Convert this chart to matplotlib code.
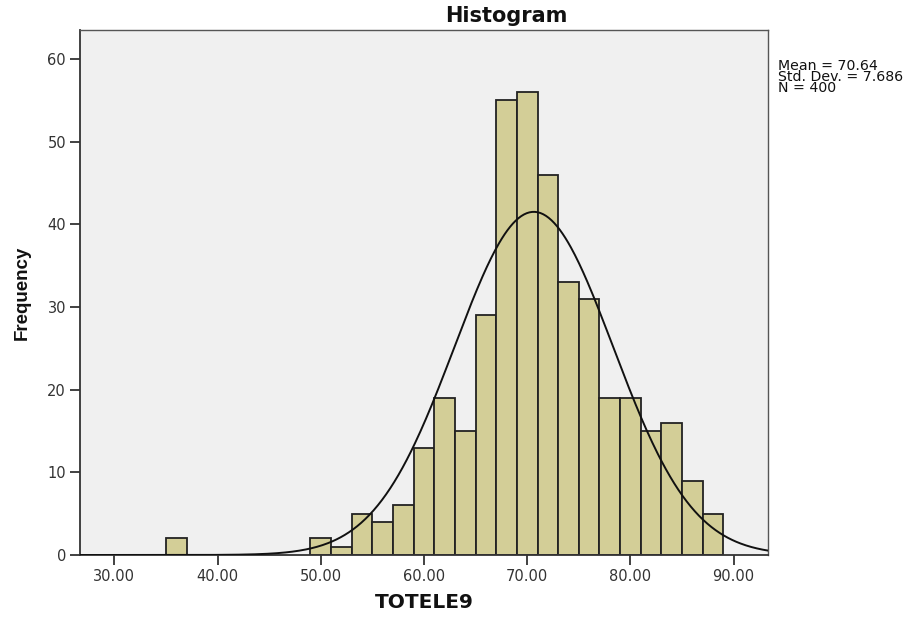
import numpy as np
import matplotlib
matplotlib.use("Agg")
import matplotlib.pyplot as plt

bin_edges = [35, 37, 39, 41, 43, 45, 47, 49, 51, 53, 55, 57, 59, 61, 63, 65,
             67, 69, 71, 73, 75, 77, 79, 81, 83, 85, 87, 89]
counts = [2, 0, 0, 0, 0, 0, 0, 2, 1, 5, 4, 6, 13, 19, 15, 29,
          55, 56, 46, 33, 31, 19, 19, 15, 16, 9, 5]
mean = 70.64
std = 7.686
n = 400
xticks = [30, 40, 50, 60, 70, 80, 90]
yticks = [0, 10, 20, 30, 40, 50, 60]

plt.rcParams['font.family'] = ['DejaVu Sans']

fig = plt.figure(figsize=(9.17, 6.17), dpi=100)
ax = fig.add_axes([0.0872, 0.1005, 0.7503, 0.8505])
ax.set_facecolor('#F0F0F0')

edges = np.array(bin_edges, dtype=float)
widths = np.diff(edges)
for left, w, c in zip(edges[:-1], widths, counts):
    if c > 0:
        ax.bar(left, c, width=w, align='edge', color='#D3CE97',
               edgecolor='#222222', linewidth=1.3, zorder=2)

binw = widths[0]
xs = np.linspace(26.67, 93.33, 500)
ys = n * binw * np.exp(-0.5 * ((xs - mean) / std) ** 2) / (std * np.sqrt(2 * np.pi))
ax.plot(xs, ys, color='#111111', linewidth=1.4, zorder=3)

ax.set_xlim(26.67, 93.33)
ax.set_ylim(0, 63.5)
ax.set_xticks(xticks)
ax.set_xticklabels([f"{t:.2f}" for t in xticks])
ax.set_yticks(yticks)
ax.tick_params(direction='out', length=7, width=1.3, colors='#333333',
               labelsize=10.5, labelcolor='#333333', pad=3)
for s in ['left', 'bottom']:
    ax.spines[s].set_color('#333333')
    ax.spines[s].set_linewidth(1.3)
for s in ['right', 'top']:
    ax.spines[s].set_color('#555555')
    ax.spines[s].set_linewidth(1.0)

fig.text(506 / 917, 1 - 22 / 617, 'Histogram', fontsize=15, fontweight='bold',
         ha='center', va='baseline', color='#111111')
fig.text(424 / 917, 1 - 608 / 617, 'TOTELE9', fontsize=14.5, fontweight='bold',
         ha='center', va='baseline', color='#111111')
ax.set_ylabel('Frequency', fontsize=13.5, fontweight='bold', labelpad=12,
              family=['Liberation Sans', 'DejaVu Sans'], color='#111111')

fig.text(778 / 917, 1 - 59 / 617,
         f"Mean = {mean:.2f}\nStd. Dev. = {std:.3f}\nN = {n}",
         fontsize=10.2, va='top', ha='left', linespacing=0.74, color='#111111')

fig.savefig('out.png', dpi=100, facecolor='white')
